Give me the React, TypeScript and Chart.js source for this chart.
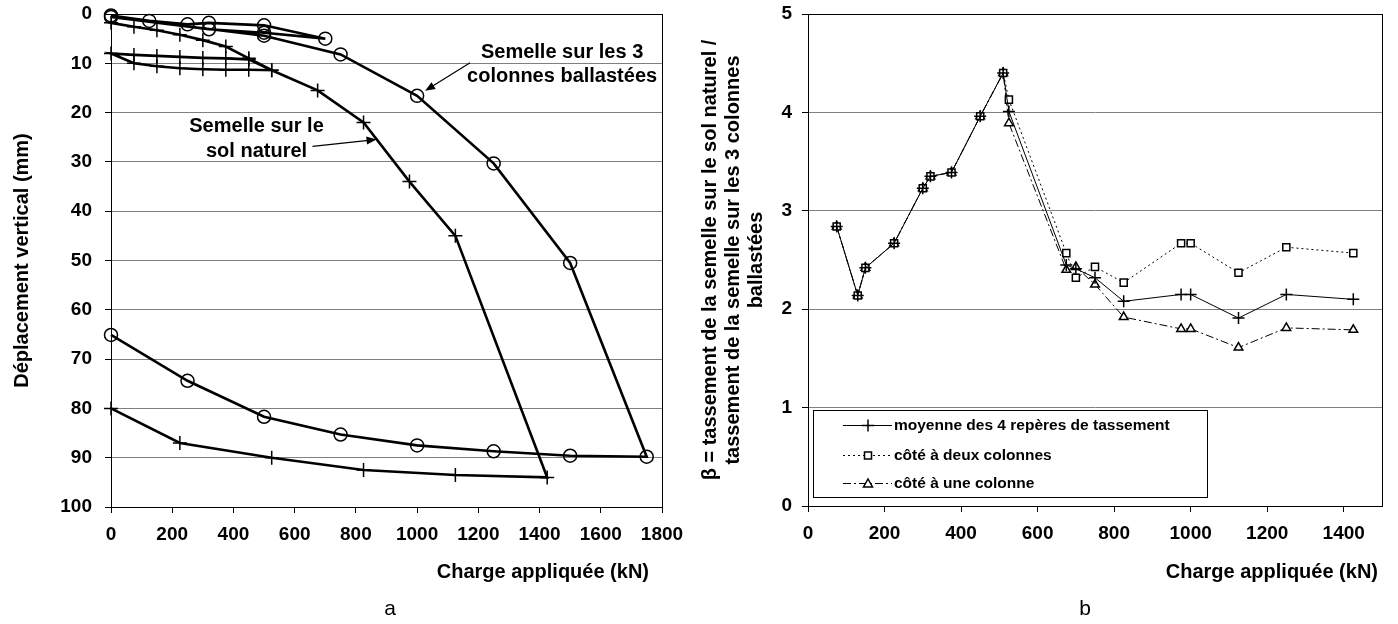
import React, { useEffect, useRef } from 'react';
import { Chart, registerables } from 'chart.js';

Chart.register(...registerables);

const FONT = '"Liberation Sans", Arial, Helvetica, sans-serif';

// ---------- Figure a : déplacement vertical ----------
const solNaturelCharge = [0, 75, 150, 225, 300, 375, 450, 525, 450, 375, 300, 225, 150, 75, 0, 75, 150, 225, 300, 375, 450, 525, 675, 825, 975, 1125, 1425, 1125, 825, 525, 225, 0];
const solNaturelDeplacement = [1.8, 2.6, 3.3, 4.2, 5.3, 6.6, 9.0, 11.4, 11.3, 11.3, 11.2, 11.0, 10.6, 10.0, 8.0, 8.3, 8.5, 8.7, 8.9, 9.0, 9.2, 11.4, 15.5, 22.0, 34.0, 45.0, 94.0, 93.5, 92.5, 90.0, 87.0, 80.0];
const colonnesCharge = [0, 125, 250, 320, 500, 700, 500, 320, 0, 500, 750, 1000, 1250, 1500, 1750, 1500, 1250, 1000, 750, 500, 250, 0];
const colonnesDeplacement = [0.3, 1.4, 2.1, 1.8, 2.3, 5.0, 3.8, 3.1, 0.6, 4.4, 8.2, 16.6, 30.3, 50.5, 89.8, 89.6, 88.7, 87.5, 85.3, 81.7, 74.4, 65.1];
const leftXTicks = [0, 200, 400, 600, 800, 1000, 1200, 1400, 1600, 1800];
const leftYTicks = [0, 10, 20, 30, 40, 50, 60, 70, 80, 90, 100];

// ---------- Figure b : rapport beta ----------
const betaCharge = [75, 130, 150, 225, 300, 320, 375, 450, 510, 525, 675, 700, 750, 825, 975, 1000, 1125, 1250, 1425];
const betaMoyenne = [2.84, 2.14, 2.42, 2.67, 3.23, 3.35, 3.39, 3.96, 4.40, 4.01, 2.45, 2.41, 2.32, 2.08, 2.15, 2.15, 1.91, 2.15, 2.10];
const betaDeuxColonnes = [2.84, 2.14, 2.42, 2.67, 3.23, 3.35, 3.39, 3.96, 4.40, 4.13, 2.57, 2.32, 2.43, 2.27, 2.67, 2.67, 2.37, 2.63, 2.57];
const betaUneColonne = [2.84, 2.14, 2.42, 2.67, 3.23, 3.35, 3.39, 3.96, 4.40, 3.89, 2.40, 2.43, 2.25, 1.92, 1.80, 1.80, 1.61, 1.81, 1.79];
const legendLabels = ['moyenne des 4 repères de tassement', 'côté à deux colonnes', 'côté à une colonne'];
const rightXMax = 1500;
const rightXTicks = [0, 200, 400, 600, 800, 1000, 1200, 1400];
const rightYTicks = [0, 1, 2, 3, 4, 5];

const xTitle = 'Charge appliquée (kN)';
const leftYTitle = 'Déplacement vertical (mm)';
const betaTitle = [
  'β = tassement de la semelle sur le sol naturel /',
  'tassement de la semelle sur les 3 colonnes',
  'ballastées',
];

const toPoints = (xs: number[], ys: number[]) => xs.map((x, i) => ({ x, y: ys[i] }));
const setTicks = (values: number[]) => (scale: any) => {
  scale.ticks = values.map((value) => ({ value }));
};
const plainLabel = (v: any) => String(v);

function arrow(ctx: CanvasRenderingContext2D, x1: number, y1: number, x2: number, y2: number) {
  const ang = Math.atan2(y2 - y1, x2 - x1);
  const len = 10;
  const hw = 4;
  ctx.beginPath();
  ctx.moveTo(x1, y1);
  ctx.lineTo(x2 - Math.cos(ang) * len * 0.8, y2 - Math.sin(ang) * len * 0.8);
  ctx.lineWidth = 1.2;
  ctx.strokeStyle = '#000';
  ctx.stroke();
  ctx.beginPath();
  ctx.moveTo(x2, y2);
  ctx.lineTo(x2 - Math.cos(ang) * len + Math.sin(ang) * hw, y2 - Math.sin(ang) * len - Math.cos(ang) * hw);
  ctx.lineTo(x2 - Math.cos(ang) * len - Math.sin(ang) * hw, y2 - Math.sin(ang) * len + Math.cos(ang) * hw);
  ctx.closePath();
  ctx.fillStyle = '#000';
  ctx.fill();
}

const tickFont = { family: FONT, size: 19, weight: 'bold' as const };

const leftDecor = {
  id: 'leftDecor',
  afterDraw(chart: any) {
    const { ctx, chartArea: a, scales } = chart;
    const xs = scales.x;
    const ys = scales.y;
    ctx.save();
    ctx.strokeStyle = '#000';
    ctx.lineWidth = 1;
    ctx.strokeRect(a.left + 0.5, a.top + 0.5, a.right - a.left, a.bottom - a.top);

    ctx.fillStyle = '#000';
    ctx.font = `bold 20px ${FONT}`;
    ctx.textAlign = 'center';
    ctx.textBaseline = 'middle';
    // annotation: colonnes
    const c = { x: xs.getPixelForValue(1000), y: ys.getPixelForValue(16.6) };
    ctx.fillText('Semelle sur les 3', c.x + 145, c.y - 43);
    ctx.fillText('colonnes ballastées', c.x + 145, c.y - 19);
    arrow(ctx, c.x + 53, c.y - 33, c.x + 8, c.y - 5);
    // annotation: sol naturel
    const s = { x: xs.getPixelForValue(825), y: ys.getPixelForValue(22) };
    ctx.fillStyle = '#000';
    ctx.fillText('Semelle sur le', s.x - 107, s.y + 4);
    ctx.fillText('sol naturel', s.x - 107, s.y + 29);
    arrow(ctx, s.x - 51, s.y + 24, s.x + 13, s.y + 17);

    // axis titles
    ctx.fillStyle = '#000';
    ctx.font = `bold 20px ${FONT}`;
    ctx.textAlign = 'right';
    ctx.fillText(xTitle, a.right - 13, 572);
    ctx.save();
    ctx.translate(22, (a.top + a.bottom) / 2);
    ctx.rotate(-Math.PI / 2);
    ctx.textAlign = 'center';
    ctx.fillText(leftYTitle, 0, 0);
    ctx.restore();
    ctx.font = `21px ${FONT}`;
    ctx.textAlign = 'center';
    ctx.fillText('a', 390, 609);
    ctx.restore();
  },
};

function drawMarker(ctx: CanvasRenderingContext2D, style: string, x: number, y: number) {
  ctx.beginPath();
  if (style === 'cross') {
    ctx.moveTo(x - 6, y); ctx.lineTo(x + 6, y);
    ctx.moveTo(x, y - 6); ctx.lineTo(x, y + 6);
    ctx.stroke();
  } else if (style === 'rect') {
    ctx.rect(x - 3.5, y - 3.5, 7, 7);
    ctx.fillStyle = '#fff';
    ctx.fill();
    ctx.stroke();
  } else {
    ctx.moveTo(x, y - 4.5);
    ctx.lineTo(x + 4.5, y + 3.5);
    ctx.lineTo(x - 4.5, y + 3.5);
    ctx.closePath();
    ctx.fillStyle = '#fff';
    ctx.fill();
    ctx.stroke();
  }
}

const rightDecor = {
  id: 'rightDecor',
  afterDraw(chart: any) {
    const { ctx, chartArea: a } = chart;
    ctx.save();
    ctx.strokeStyle = '#000';
    ctx.lineWidth = 1;
    ctx.strokeRect(a.left + 0.5, a.top + 0.5, a.right - a.left, a.bottom - a.top);

    // legend box
    const bx = a.left + 5;
    const by = a.bottom - 96;
    const bw = 394;
    const bh = 87;
    ctx.fillStyle = '#fff';
    ctx.fillRect(bx, by, bw, bh);
    ctx.strokeRect(bx + 0.5, by + 0.5, bw, bh);
    const styles = ['cross', 'rect', 'triangle'];
    const dashes = [[], [2, 3], [8, 3, 2, 3]];
    const rowY = [by + 15, by + 45, by + 73];
    ctx.font = `bold 15.5px ${FONT}`;
    ctx.textBaseline = 'middle';
    ctx.textAlign = 'left';
    legendLabels.forEach((lab, i) => {
      const y = Math.round(rowY[i]) + 0.5;
      ctx.setLineDash(dashes[i]);
      ctx.lineWidth = 1;
      ctx.strokeStyle = '#000';
      ctx.beginPath();
      ctx.moveTo(bx + 30, y);
      ctx.lineTo(bx + 79, y);
      ctx.stroke();
      ctx.setLineDash([]);
      ctx.lineWidth = 1.5;
      drawMarker(ctx, styles[i], bx + 55, y);
      ctx.fillStyle = '#000';
      ctx.fillText(lab, bx + 81, y);
    });

    // titles
    ctx.fillStyle = '#000';
    ctx.font = `bold 20px ${FONT}`;
    ctx.textAlign = 'right';
    ctx.textBaseline = 'middle';
    ctx.fillText(xTitle, a.right - 4, 572);
    ctx.save();
    ctx.translate(0, (a.top + a.bottom) / 2);
    ctx.rotate(-Math.PI / 2);
    ctx.textAlign = 'center';
    betaTitle.forEach((t, i) => ctx.fillText(t, 0, 30 + i * 23));
    ctx.restore();
    ctx.font = `21px ${FONT}`;
    ctx.textAlign = 'center';
    ctx.fillText('b', 405, 609);
    ctx.restore();
  },
};

function LeftChart() {
  const ref = useRef<HTMLCanvasElement>(null);
  useEffect(() => {
    if (!ref.current) return;
    const chart = new Chart(ref.current, {
      type: 'scatter',
      data: {
        datasets: [
          {
            label: 'Semelle sur le sol naturel',
            data: toPoints(solNaturelCharge, solNaturelDeplacement),
            showLine: true,
            borderColor: '#000',
            borderWidth: 2.6,
            pointStyle: 'cross',
            pointRadius: 7,
            pointBorderWidth: 1.5,
            pointBorderColor: '#000',
            pointBackgroundColor: 'rgba(0,0,0,0)',
            tension: 0,
            clip: false,
          },
          {
            label: 'Semelle sur les 3 colonnes ballastées',
            data: toPoints(colonnesCharge, colonnesDeplacement),
            showLine: true,
            borderColor: '#000',
            borderWidth: 2.6,
            pointStyle: 'circle',
            pointRadius: 6.5,
            pointBorderWidth: 1.5,
            pointBorderColor: '#000',
            pointBackgroundColor: 'rgba(0,0,0,0)',
            tension: 0,
            clip: false,
          },
        ],
      },
      options: {
        responsive: false,
        animation: false,
        events: [],
        layout: { padding: { top: 14, right: 38, left: 0, bottom: 0 } },
        plugins: { legend: { display: false }, tooltip: { enabled: false } },
        scales: {
          x: {
            type: 'linear',
            min: leftXTicks[0],
            max: leftXTicks[leftXTicks.length - 1],
            afterBuildTicks: setTicks(leftXTicks),
            ticks: { font: tickFont, color: '#000', padding: 10, maxRotation: 0, callback: plainLabel },
            grid: { drawOnChartArea: false, tickLength: 6, tickColor: '#000' },
            border: { color: '#000', width: 1 },
            afterFit(scale: any) { scale.height = 117; scale.paddingLeft = 0; scale.paddingRight = 0; },
          },
          y: {
            type: 'linear',
            reverse: true,
            min: leftYTicks[0],
            max: leftYTicks[leftYTicks.length - 1],
            afterBuildTicks: setTicks(leftYTicks),
            ticks: { font: tickFont, color: '#000', padding: 13, callback: plainLabel },
            grid: { color: '#808080', tickLength: 6, tickColor: '#000' },
            border: { color: '#000', width: 1 },
            afterFit(scale: any) { scale.width = 111; scale.paddingTop = 0; scale.paddingBottom = 0; },
          },
        },
      },
      plugins: [leftDecor],
    } as any);
    return () => chart.destroy();
  }, []);
  return <canvas ref={ref} width={700} height={624} style={{ position: 'absolute', left: 0, top: 0 }} />;
}

function RightChart() {
  const ref = useRef<HTMLCanvasElement>(null);
  useEffect(() => {
    if (!ref.current) return;
    const chart = new Chart(ref.current, {
      type: 'scatter',
      data: {
        datasets: [
          {
            label: legendLabels[0],
            data: toPoints(betaCharge, betaMoyenne),
            showLine: true,
            borderColor: '#000',
            borderWidth: 1,
            pointStyle: 'cross',
            pointRadius: 6,
            pointBorderWidth: 1.5,
            pointBorderColor: '#000',
            tension: 0,
            clip: false,
          },
          {
            label: legendLabels[1],
            data: toPoints(betaCharge, betaDeuxColonnes),
            showLine: true,
            borderColor: '#000',
            borderWidth: 1,
            borderDash: [2, 3],
            pointStyle: 'rect',
            pointRadius: 5,
            pointBorderWidth: 1.5,
            pointBorderColor: '#000',
            pointBackgroundColor: '#fff',
            tension: 0,
            clip: false,
          },
          {
            label: legendLabels[2],
            data: toPoints(betaCharge, betaUneColonne),
            showLine: true,
            borderColor: '#000',
            borderWidth: 1,
            borderDash: [8, 3, 2, 3],
            pointStyle: 'triangle',
            pointRadius: 5,
            pointBorderWidth: 1.5,
            pointBorderColor: '#000',
            pointBackgroundColor: '#fff',
            tension: 0,
            clip: false,
          },
        ],
      },
      options: {
        responsive: false,
        animation: false,
        events: [],
        layout: { padding: { top: 14, right: 16, left: 0, bottom: 0 } },
        plugins: { legend: { display: false }, tooltip: { enabled: false } },
        scales: {
          x: {
            type: 'linear',
            min: rightXTicks[0],
            max: rightXMax,
            afterBuildTicks: setTicks(rightXTicks),
            ticks: { font: tickFont, color: '#000', padding: 10, maxRotation: 0, callback: plainLabel },
            grid: { drawOnChartArea: false, tickLength: 6, tickColor: '#000' },
            border: { color: '#000', width: 1 },
            afterFit(scale: any) { scale.height = 118; scale.paddingLeft = 0; scale.paddingRight = 0; },
          },
          y: {
            type: 'linear',
            min: rightYTicks[0],
            max: rightYTicks[rightYTicks.length - 1],
            afterBuildTicks: setTicks(rightYTicks),
            ticks: { font: tickFont, color: '#000', padding: 10, callback: plainLabel },
            grid: { color: '#808080', tickLength: 6, tickColor: '#000' },
            border: { color: '#000', width: 1 },
            afterFit(scale: any) { scale.width = 128; scale.paddingTop = 0; scale.paddingBottom = 0; },
          },
        },
      },
      plugins: [rightDecor],
    } as any);
    return () => chart.destroy();
  }, []);
  return <canvas ref={ref} width={718} height={624} style={{ position: 'absolute', left: 680, top: 0 }} />;
}

export default function App() {
  return (
    <div style={{ position: 'absolute', left: 0, top: 0, width: 1398, height: 624, background: '#fff', overflow: 'hidden' }}>
      <LeftChart />
      <RightChart />
    </div>
  );
}
